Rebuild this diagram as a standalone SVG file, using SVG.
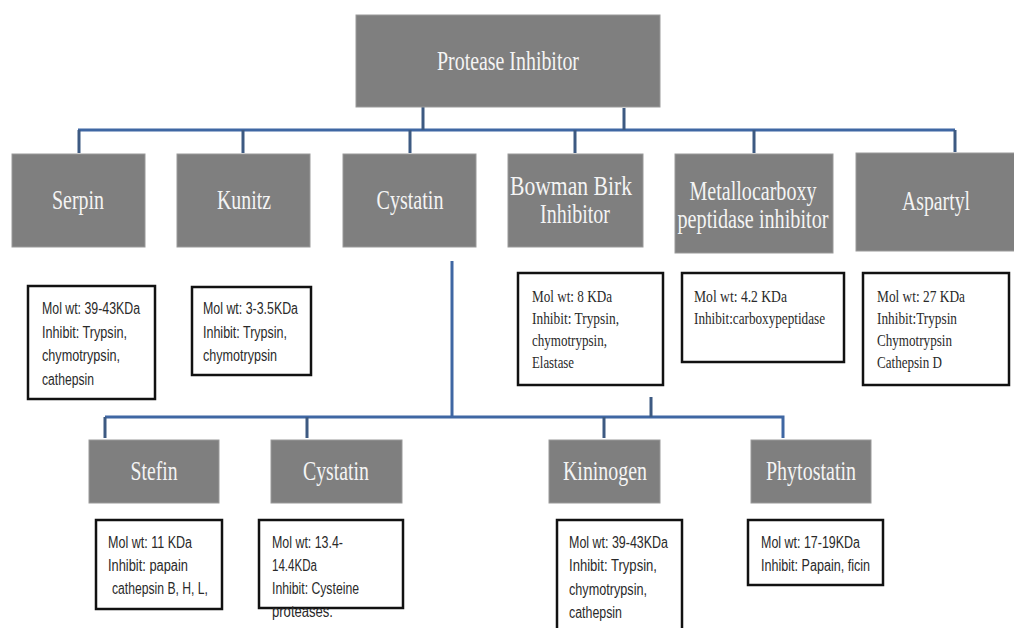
<svg xmlns="http://www.w3.org/2000/svg" width="1014" height="628" viewBox="0 0 1014 628">
<style>
.node{fill:#7f7f7f;stroke:#9a9a9a;stroke-width:1}
.nt{font-family:"Liberation Serif","Times New Roman",serif;font-size:27px;fill:#f4f4f4;text-anchor:middle}
.info{fill:#ffffff;stroke:#111;stroke-width:2.5}
.st{font-family:"Liberation Sans",Arial,sans-serif;font-size:16px;fill:#2a2a2a}
.sf{font-family:"Liberation Serif","Times New Roman",serif;font-size:17px;fill:#2a2a2a}
.con{fill:none;stroke:#3f67a3;stroke-width:3}
.tick{fill:none;stroke:#3d5a82;stroke-width:3}
</style>
<rect width="1014" height="628" fill="#ffffff"/>
<g id="connectors">
<path class="con" d="M78,130 H955"/>
<path class="tick" d="M423,107 V130 M624,108 V130"/>
<path class="tick" d="M79,130 V153 M243,130 V153 M410,130 V153 M575,130 V153 M754,130 V153 M955,130 V152"/>
<path class="con" d="M452,261 V417" stroke-width="3.5"/>
<path class="con" d="M105,417 H783 V438"/>
<path class="tick" d="M105,417 V438 M307,417 V438 M604,417 V438 M651,397 V417"/>
</g>
<g id="root">
<rect class="node" x="356" y="15" width="304" height="92"/>
<text class="nt" x="508" y="70" textLength="142" lengthAdjust="spacingAndGlyphs">Protease Inhibitor</text>
</g>
<g id="serpin">
<rect class="node" x="12" y="154" width="133" height="93"/>
<text class="nt" x="78" y="209" textLength="52" lengthAdjust="spacingAndGlyphs">Serpin</text>
</g>
<g id="kunitz">
<rect class="node" x="177" y="154" width="133" height="93"/>
<text class="nt" x="244" y="209" textLength="54" lengthAdjust="spacingAndGlyphs">Kunitz</text>
</g>
<g id="cystatin">
<rect class="node" x="343" y="154" width="133" height="93"/>
<text class="nt" x="410" y="209" textLength="67" lengthAdjust="spacingAndGlyphs">Cystatin</text>
</g>
<g id="bowman">
<rect class="node" x="508" y="154" width="135" height="93"/>
<text class="nt" x="571" y="195" textLength="122" lengthAdjust="spacingAndGlyphs">Bowman Birk</text>
<text class="nt" x="575" y="223" textLength="70" lengthAdjust="spacingAndGlyphs">Inhibitor</text>
</g>
<g id="metallo">
<rect class="node" x="675" y="154" width="158" height="99"/>
<text class="nt" x="753" y="200" textLength="127" lengthAdjust="spacingAndGlyphs">Metallocarboxy</text>
<text class="nt" x="753" y="228" textLength="151" lengthAdjust="spacingAndGlyphs">peptidase inhibitor</text>
</g>
<g id="aspartyl">
<rect class="node" x="856" y="153" width="160" height="98"/>
<text class="nt" x="936" y="210" textLength="68" lengthAdjust="spacingAndGlyphs">Aspartyl</text>
</g>
<g id="serpin-info">
<rect class="info" x="28" y="286" width="127" height="113"/>
<text class="st" x="42" y="314" textLength="98" lengthAdjust="spacingAndGlyphs">Mol wt: 39-43KDa</text>
<text class="st" x="42" y="337.5" textLength="85" lengthAdjust="spacingAndGlyphs">Inhibit: Trypsin,</text>
<text class="st" x="42" y="361" textLength="78" lengthAdjust="spacingAndGlyphs">chymotrypsin,</text>
<text class="st" x="42" y="384.5" textLength="52" lengthAdjust="spacingAndGlyphs">cathepsin</text>
</g>
<g id="kunitz-info">
<rect class="info" x="192" y="287" width="119" height="88"/>
<text class="st" x="203" y="314" textLength="95" lengthAdjust="spacingAndGlyphs">Mol wt: 3-3.5KDa</text>
<text class="st" x="203" y="337.5" textLength="84" lengthAdjust="spacingAndGlyphs">Inhibit: Trypsin,</text>
<text class="st" x="203" y="361" textLength="74" lengthAdjust="spacingAndGlyphs">chymotrypsin</text>
</g>
<g id="bowman-info">
<rect class="info" x="518" y="273" width="145" height="112"/>
<text class="sf" x="532" y="302" textLength="80" lengthAdjust="spacingAndGlyphs">Mol wt: 8 KDa</text>
<text class="sf" x="532" y="324" textLength="87" lengthAdjust="spacingAndGlyphs">Inhibit:  Trypsin,</text>
<text class="sf" x="532" y="346" textLength="75" lengthAdjust="spacingAndGlyphs">chymotrypsin,</text>
<text class="sf" x="532" y="368" textLength="42" lengthAdjust="spacingAndGlyphs">Elastase</text>
</g>
<g id="metallo-info">
<rect class="info" x="682" y="273" width="162" height="89"/>
<text class="sf" x="694" y="302" textLength="93" lengthAdjust="spacingAndGlyphs">Mol wt: 4.2 KDa</text>
<text class="sf" x="694" y="324" textLength="131" lengthAdjust="spacingAndGlyphs">Inhibit:carboxypeptidase</text>
</g>
<g id="aspartyl-info">
<rect class="info" x="863" y="273" width="146" height="112"/>
<text class="sf" x="877" y="302" textLength="88" lengthAdjust="spacingAndGlyphs">Mol wt: 27 KDa</text>
<text class="sf" x="877" y="324" textLength="80" lengthAdjust="spacingAndGlyphs">Inhibit:Trypsin</text>
<text class="sf" x="877" y="346" textLength="75" lengthAdjust="spacingAndGlyphs">Chymotrypsin</text>
<text class="sf" x="877" y="368" textLength="65" lengthAdjust="spacingAndGlyphs">Cathepsin  D</text>
</g>
<g id="stefin">
<rect class="node" x="89" y="440" width="130" height="63"/>
<text class="nt" x="154" y="480" textLength="47" lengthAdjust="spacingAndGlyphs">Stefin</text>
</g>
<g id="cystatin2">
<rect class="node" x="271" y="440" width="131" height="63"/>
<text class="nt" x="336" y="480" textLength="66" lengthAdjust="spacingAndGlyphs">Cystatin</text>
</g>
<g id="kininogen">
<rect class="node" x="549" y="440" width="111" height="63"/>
<text class="nt" x="605" y="480" textLength="84" lengthAdjust="spacingAndGlyphs">Kininogen</text>
</g>
<g id="phytostatin">
<rect class="node" x="751" y="440" width="120" height="63"/>
<text class="nt" x="811" y="480" textLength="90" lengthAdjust="spacingAndGlyphs">Phytostatin</text>
</g>
<g id="stefin-info">
<rect class="info" x="96" y="520" width="126" height="89"/>
<text class="st" x="108" y="548" textLength="84" lengthAdjust="spacingAndGlyphs">Mol wt: 11 KDa</text>
<text class="st" x="108" y="571" textLength="80" lengthAdjust="spacingAndGlyphs">Inhibit: papain</text>
<text class="st" x="112" y="594" textLength="96" lengthAdjust="spacingAndGlyphs">cathepsin B, H, L,</text>
</g>
<g id="cystatin2-info">
<rect class="info" x="259" y="520" width="144" height="88"/>
<text class="st" x="272" y="548" textLength="71" lengthAdjust="spacingAndGlyphs">Mol wt: 13.4-</text>
<text class="st" x="272" y="571" textLength="45" lengthAdjust="spacingAndGlyphs">14.4KDa</text>
<text class="st" x="272" y="594" textLength="87" lengthAdjust="spacingAndGlyphs">Inhibit: Cysteine</text>
<text class="st" x="272" y="617" textLength="61" lengthAdjust="spacingAndGlyphs">proteases.</text>
</g>
<g id="kininogen-info">
<rect class="info" x="557" y="520" width="125" height="120"/>
<text class="st" x="569" y="548" textLength="99" lengthAdjust="spacingAndGlyphs">Mol wt: 39-43KDa</text>
<text class="st" x="569" y="571" textLength="88" lengthAdjust="spacingAndGlyphs">Inhibit: Trypsin,</text>
<text class="st" x="569" y="595" textLength="78" lengthAdjust="spacingAndGlyphs">chymotrypsin,</text>
<text class="st" x="569" y="618" textLength="53" lengthAdjust="spacingAndGlyphs">cathepsin</text>
</g>
<g id="phytostatin-info">
<rect class="info" x="748" y="520" width="135" height="65"/>
<text class="st" x="761" y="548" textLength="99" lengthAdjust="spacingAndGlyphs">Mol wt: 17-19KDa</text>
<text class="st" x="761" y="571" textLength="109" lengthAdjust="spacingAndGlyphs">Inhibit: Papain, ficin</text>
</g>
</svg>
